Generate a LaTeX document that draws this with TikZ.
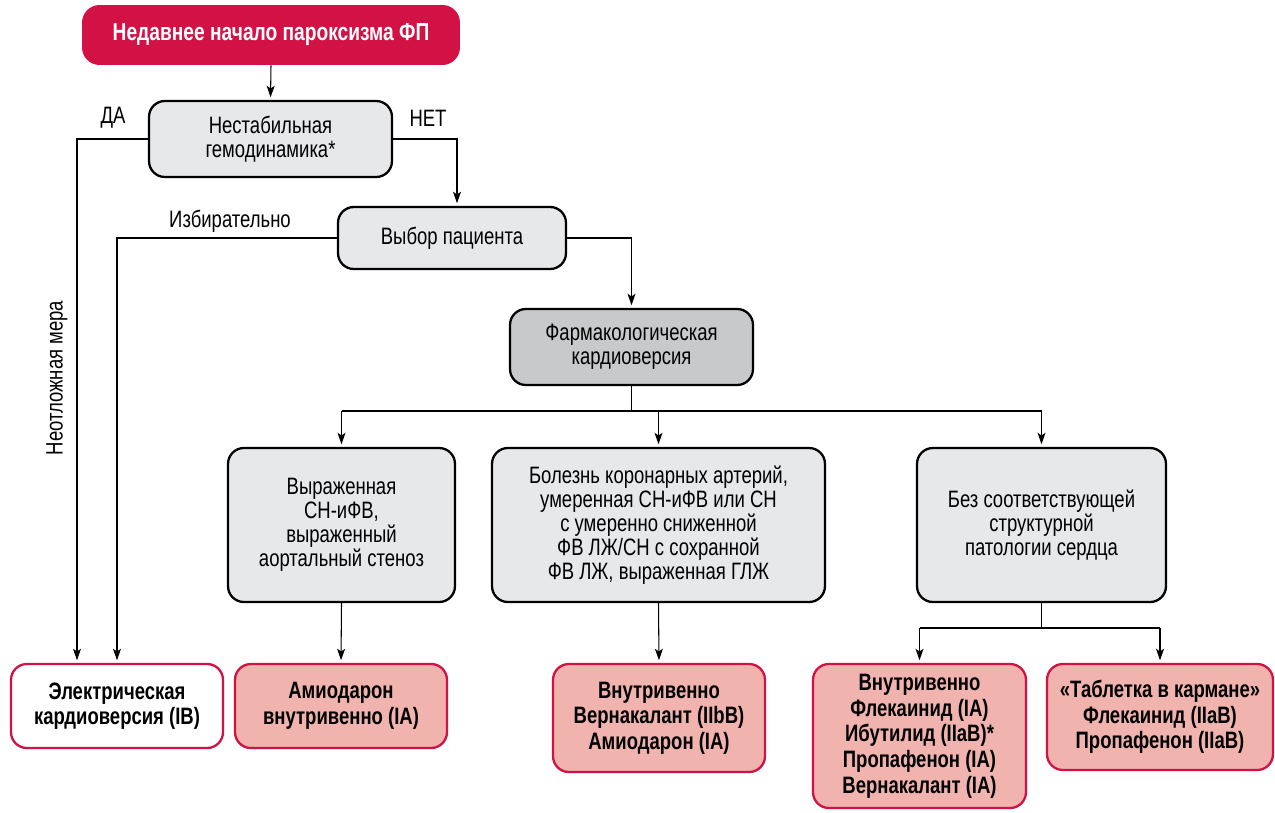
\documentclass[tikz,border=0pt]{standalone}
\usepackage{fontspec}
\setmainfont[FakeStretch=0.78]{Liberation Sans}
\usetikzlibrary{arrows.meta}
\definecolor{alred}{HTML}{D21145}
\definecolor{alpink}{HTML}{F0B3AD}
\definecolor{lightgray}{HTML}{E7E8EA}
\definecolor{midgray}{HTML}{C8C9CB}

\tikzset{
  graybox/.style={draw=black, line width=1.3pt, rounded corners=9pt, fill=lightgray, align=center, inner sep=2pt},
  darkbox/.style={graybox, fill=midgray},
  whitebox/.style={draw=alred, line width=1.3pt, rounded corners=9pt, fill=white, align=center, font=\fontsize{13.5}{14.6}\selectfont\bfseries},
  drugbox/.style={whitebox, fill=alpink},
  startbox/.style={fill=alred, rounded corners=10pt, text=white, font=\fontsize{14}{15}\selectfont\bfseries},
  arr/.style={-{Stealth[length=6.5pt,width=4.5pt,inset=1.5pt]}, line width=0.6pt, shorten >=1.5pt},
  plain/.style={line width=0.6pt}
}

\begin{document}
\begin{tikzpicture}[x=0.02cm, y=-0.02cm, font=\fontsize{13.5}{13.6}\selectfont]
  \useasboundingbox (0,0) rectangle (1275,812);

  \node[startbox, minimum width=7.56cm, minimum height=1.2cm] (start) at (271,35) {Недавнее начало пароксизма ФП};
  \node[graybox, minimum width=4.86cm, minimum height=1.52cm] (hemo) at (270.5,139) {Нестабильная\\гемодинамика*};
  \node[graybox, minimum width=4.56cm, minimum height=1.24cm] (choice) at (452,238) {Выбор пациента};
  \node[darkbox, minimum width=4.86cm, minimum height=1.52cm] (pharm) at (631.5,347) {Фармакологическая\\кардиоверсия};

  \node[graybox, minimum width=4.54cm, minimum height=3.08cm] (severe) at (341.5,525) {Выраженная\\СН-иФВ,\\выраженный\\аортальный стеноз};
  \node[graybox, minimum width=6.66cm, minimum height=3.08cm] (coronary) at (658.5,525) {Болезнь коронарных артерий,\\умеренная СН-иФВ или СН\\с умеренно сниженной\\ФВ ЛЖ/СН с сохранной\\ФВ ЛЖ, выраженная ГЛЖ};
  \node[graybox, minimum width=4.98cm, minimum height=3.08cm] (nostruct) at (1041.5,525) {Без соответствующей\\структурной\\патологии сердца};

  \node[whitebox, minimum width=4.24cm, minimum height=1.68cm] (electric) at (117,706) {Электрическая\\кардиоверсия (IB)};
  \node[drugbox, minimum width=4.24cm, minimum height=1.68cm] (amio) at (341,706) {Амиодарон\\внутривенно (IA)};
  \node[drugbox, minimum width=4.24cm, minimum height=2.16cm] (vern) at (659,718) {Внутривенно\\Вернакалант (IIbB)\\Амиодарон (IA)};
  \node[drugbox, minimum width=4.26cm, minimum height=2.88cm] (flec) at (919.5,736) {Внутривенно\\Флекаинид (IA)\\Ибутилид (IIaB)*\\Пропафенон (IA)\\Вернакалант (IA)};
  \node[drugbox, minimum width=4.52cm, minimum height=2.12cm] (pill) at (1160,717) {«Таблетка в кармане»\\Флекаинид (IIaB)\\Пропафенон (IIaB)};

  \node (yeslbl) at (113,118) {ДА};
  \node (nolbl) at (428,118) {НЕТ};
  \node (sellbl) at (230,221) {Избирательно};
  \node[rotate=90] (urgent) at (57,378) {Неотложная мера};

  \coordinate (yes) at (77,0);
  \coordinate (no) at (457,0);
  \coordinate (split) at (0,411);
  \coordinate (split2) at (0,628);

  \draw[arr] (start.south) -- (hemo.north);
  \draw[arr] (hemo.west) -| (yes |- electric.north);
  \draw[arr] (hemo.east) -| (no |- choice.north);
  \draw[arr] (choice.west) -| (electric.north);
  \draw[arr] (choice.east) -| (pharm.north);

  \draw[plain] (pharm.south) -- (pharm.south |- split);
  \draw[plain] (severe.north |- split) -- (nostruct.north |- split);
  \foreach \n in {severe,coronary,nostruct}
    \draw[arr] (\n.north |- split) -- (\n.north);

  \draw[arr] (severe.south) -- (amio.north);
  \draw[arr] (coronary.south) -- (vern.north);
  \draw[plain] (nostruct.south) -- (nostruct.south |- split2);
  \draw[plain] (flec.north |- split2) -- (pill.north |- split2);
  \foreach \n in {flec,pill}
    \draw[arr] (\n.north |- split2) -- (\n.north);
\end{tikzpicture}
\end{document}
